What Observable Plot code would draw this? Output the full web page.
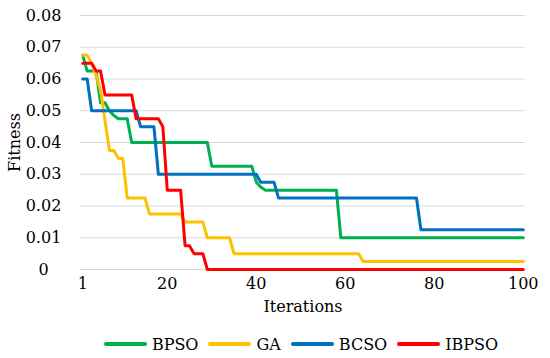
<!DOCTYPE html>
<html><head><meta charset="utf-8">
<script src="https://cdn.jsdelivr.net/npm/d3@7"></script>
<script src="https://cdn.jsdelivr.net/npm/@observablehq/plot@0.6"></script>
<style>
body{margin:0;background:#fff;font-family:"DejaVu Serif",serif;}
#chart{width:550px;height:318px;}
#chart svg, #chart svg text{font-family:"DejaVu Serif",serif !important;}
#legend{display:flex;justify-content:center;align-items:center;height:40px;margin-top:6px;font-size:16px;color:#000;padding-left:52px;}
.item{display:flex;align-items:center;margin:0 5px;}
.sw{width:43px;height:4px;border-radius:2px;margin-right:5px;}
</style></head><body><div id="chart"></div><div id="legend"></div>
<script>
const seriesNames = ["BPSO", "GA", "BCSO", "IBPSO"];
const colors = ["#00B050", "#FFC000", "#0070C0", "#FF0000"];
const iterations = d3.range(1, 101);
const xTicks = [1, 20, 40, 60, 80, 100];
const yTicks = [0, 0.01, 0.02, 0.03, 0.04, 0.05, 0.06, 0.07, 0.08];

const bpso = [
  0.0675, 0.0625, 0.0625, 0.0625, 0.0525, 0.0525, 0.05, 0.0485, 0.0475, 0.0475,
  0.0475, 0.04, 0.04, 0.04, 0.04, 0.04, 0.04, 0.04, 0.04, 0.04,
  0.04, 0.04, 0.04, 0.04, 0.04, 0.04, 0.04, 0.04, 0.04, 0.0325,
  0.0325, 0.0325, 0.0325, 0.0325, 0.0325, 0.0325, 0.0325, 0.0325, 0.0325, 0.0275,
  0.026, 0.025, 0.025, 0.025, 0.025, 0.025, 0.025, 0.025, 0.025, 0.025,
  0.025, 0.025, 0.025, 0.025, 0.025, 0.025, 0.025, 0.025, 0.01, 0.01,
  0.01, 0.01, 0.01, 0.01, 0.01, 0.01, 0.01, 0.01, 0.01, 0.01,
  0.01, 0.01, 0.01, 0.01, 0.01, 0.01, 0.01, 0.01, 0.01, 0.01,
  0.01, 0.01, 0.01, 0.01, 0.01, 0.01, 0.01, 0.01, 0.01, 0.01,
  0.01, 0.01, 0.01, 0.01, 0.01, 0.01, 0.01, 0.01, 0.01, 0.01
];
const ga = [
  0.0675, 0.0675, 0.065, 0.061, 0.0565, 0.047, 0.0375, 0.0375, 0.035, 0.035,
  0.0225, 0.0225, 0.0225, 0.0225, 0.0225, 0.0175, 0.0175, 0.0175, 0.0175, 0.0175,
  0.0175, 0.0175, 0.0175, 0.015, 0.015, 0.015, 0.015, 0.015, 0.01, 0.01,
  0.01, 0.01, 0.01, 0.01, 0.005, 0.005, 0.005, 0.005, 0.005, 0.005,
  0.005, 0.005, 0.005, 0.005, 0.005, 0.005, 0.005, 0.005, 0.005, 0.005,
  0.005, 0.005, 0.005, 0.005, 0.005, 0.005, 0.005, 0.005, 0.005, 0.005,
  0.005, 0.005, 0.005, 0.0025, 0.0025, 0.0025, 0.0025, 0.0025, 0.0025, 0.0025,
  0.0025, 0.0025, 0.0025, 0.0025, 0.0025, 0.0025, 0.0025, 0.0025, 0.0025, 0.0025,
  0.0025, 0.0025, 0.0025, 0.0025, 0.0025, 0.0025, 0.0025, 0.0025, 0.0025, 0.0025,
  0.0025, 0.0025, 0.0025, 0.0025, 0.0025, 0.0025, 0.0025, 0.0025, 0.0025, 0.0025
];
const bcso = [
  0.06, 0.06, 0.05, 0.05, 0.05, 0.05, 0.05, 0.05, 0.05, 0.05,
  0.05, 0.05, 0.05, 0.045, 0.045, 0.045, 0.045, 0.03, 0.03, 0.03,
  0.03, 0.03, 0.03, 0.03, 0.03, 0.03, 0.03, 0.03, 0.03, 0.03,
  0.03, 0.03, 0.03, 0.03, 0.03, 0.03, 0.03, 0.03, 0.03, 0.03,
  0.0275, 0.0275, 0.0275, 0.0275, 0.0225, 0.0225, 0.0225, 0.0225, 0.0225, 0.0225,
  0.0225, 0.0225, 0.0225, 0.0225, 0.0225, 0.0225, 0.0225, 0.0225, 0.0225, 0.0225,
  0.0225, 0.0225, 0.0225, 0.0225, 0.0225, 0.0225, 0.0225, 0.0225, 0.0225, 0.0225,
  0.0225, 0.0225, 0.0225, 0.0225, 0.0225, 0.0225, 0.0125, 0.0125, 0.0125, 0.0125,
  0.0125, 0.0125, 0.0125, 0.0125, 0.0125, 0.0125, 0.0125, 0.0125, 0.0125, 0.0125,
  0.0125, 0.0125, 0.0125, 0.0125, 0.0125, 0.0125, 0.0125, 0.0125, 0.0125, 0.0125
];
const ibpso = [
  0.065, 0.065, 0.065, 0.0625, 0.0625, 0.055, 0.055, 0.055, 0.055, 0.055,
  0.055, 0.055, 0.0475, 0.0475, 0.0475, 0.0475, 0.0475, 0.0475, 0.045, 0.025,
  0.025, 0.025, 0.025, 0.0075, 0.0075, 0.005, 0.005, 0.005, 0, 0,
  0, 0, 0, 0, 0, 0, 0, 0, 0, 0,
  0, 0, 0, 0, 0, 0, 0, 0, 0, 0,
  0, 0, 0, 0, 0, 0, 0, 0, 0, 0,
  0, 0, 0, 0, 0, 0, 0, 0, 0, 0,
  0, 0, 0, 0, 0, 0, 0, 0, 0, 0,
  0, 0, 0, 0, 0, 0, 0, 0, 0, 0,
  0, 0, 0, 0, 0, 0, 0, 0, 0, 0
];
const seriesValues = [bpso, ga, bcso, ibpso];

const rows = seriesNames.flatMap((name, k) =>
  seriesValues[k].map((v, i) => ({series: name, iter: iterations[i], fitness: v})));

const chart = Plot.plot({
  width: 550, height: 318,
  marginLeft: 80, marginRight: 25, marginTop: 15, marginBottom: 49,
  style: {fontFamily: "'DejaVu Serif', serif", fontSize: "16px", color: "#000", background: "#fff"},
  x: {domain: [0.5, 100.5]},
  y: {domain: [0, 0.08]},
  color: {domain: seriesNames, range: colors},
  marks: [
    Plot.gridY(yTicks, {stroke: "#d9d9d9", strokeOpacity: 1, strokeWidth: 1}),
    Plot.axisY(yTicks, {tickSize: 0, tickPadding: 37, textAnchor: "middle",
      tickFormat: d => d === 0 ? "0" : d.toFixed(2),
      label: "Fitness", labelAnchor: "center", labelArrow: "none", labelOffset: 72}),
    Plot.axisX(xTicks, {tickSize: 0, tickPadding: 8,
      label: "Iterations", labelAnchor: "center", labelArrow: "none", labelOffset: 42}),
    Plot.line(rows, {x: "iter", y: "fitness", z: "series", stroke: "series",
      strokeWidth: 3, strokeLinejoin: "round"})
  ]
});
document.getElementById("chart").append(chart);

const legend = document.getElementById("legend");
seriesNames.forEach((name, k) => {
  const item = document.createElement("div");
  item.className = "item";
  const sw = document.createElement("div");
  sw.className = "sw";
  sw.style.background = colors[k];
  const t = document.createElement("span");
  t.textContent = name;
  item.append(sw, t);
  legend.append(item);
});
</script>
</body></html>
